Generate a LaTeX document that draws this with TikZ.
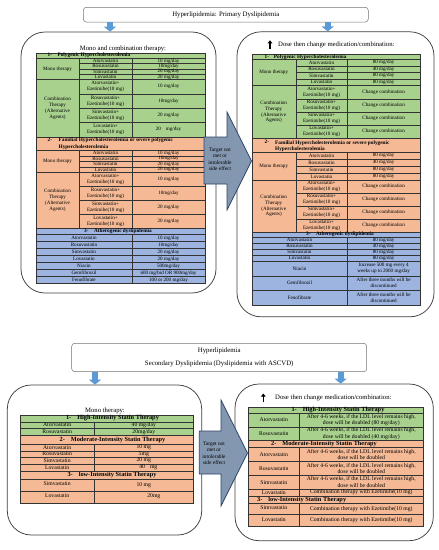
\documentclass[tikz,border=0pt]{standalone}
\usepackage{fontspec}
\setmainfont{Liberation Serif}
\usetikzlibrary{arrows.meta}
\definecolor{rxgreen}{HTML}{A9D18E}
\definecolor{rxpeach}{HTML}{F5BA95}
\definecolor{rxblue}{HTML}{9DB4E0}
\definecolor{rxslate}{HTML}{8497B0}
\definecolor{rxnavy}{HTML}{2E4468}
\definecolor{rxarrow}{HTML}{5B9BD5}

\newcommand{\rows}[6]{%
  \foreach \ya/\yb/\drug/\amt [count=\k] in {#6} {
    \draw[grid] (#2,\ya) rectangle (#4,\yb) (#3,\ya) -- (#3,\yb);
    \node[#1] (#5d\k) at ({(#2+#3)/2},{(\ya+\yb)/2}) {\drug};
    \node[#1] (#5a\k) at ({(#3+#4)/2},{(\ya+\yb)/2}) {\amt};
  }}

\begin{document}
\begin{tikzpicture}[x=1pt, y=-1pt,
  bigbox/.style={draw=black!75, line width=0.75pt, rounded corners=24pt, inner sep=0pt},
  titlebox/.style={draw=black!55, line width=0.5pt, rounded corners=3pt, inner sep=0pt,
                   align=center, font=\fontsize{6.8}{12.6}\selectfont},
  lead/.style={font=\fontsize{6.7}{8}\selectfont, inner sep=0pt},
  grid/.style={draw=black!80, line width=0.35pt},
  cell/.style={font=\fontsize{5.1}{5.9}\selectfont, inner sep=0pt, align=center},
  hdr/.style={font=\fontsize{5.3}{6.5}\selectfont\bfseries, inner sep=0pt, align=left},
  bcell/.style={font=\fontsize{5.7}{6.6}\selectfont, inner sep=0pt, align=center},
  bhdr/.style={font=\fontsize{6.3}{7}\selectfont\bfseries, inner sep=0pt},
  callout/.style={fill=rxslate, draw=rxnavy, line width=0.7pt, line join=miter},
  calltext/.style={font=\fontsize{5.4}{6.5}\selectfont, inner sep=0pt, align=center},
  down/.style={draw=rxarrow, line width=6pt, -{Triangle[length=5pt, width=12pt]}},
  up/.style={line width=1.5pt, -{Triangle[length=3pt, width=4.5pt]}},
]
  \useasboundingbox (0,0) rectangle (439,550);
  \fill[white] (0,0) rectangle (439,550);

  % primary dyslipidemia
  \node[titlebox, minimum width=285pt, minimum height=14.7pt] (ttop) at (225.8,14.65)
    {Hyperlipidemia: Primary Dyslipidemia};
  \node[bigbox, minimum width=195pt, minimum height=261pt] (lbox) at (118.5,162.5) {};
  \node[bigbox, minimum width=197pt, minimum height=285pt] (rbox) at (335.5,174.3) {};
  \coordinate (tl) at (110,0);
  \coordinate (tr) at (327.7,0);
  \draw[down] (ttop.south -| tl) -- (lbox.north -| tl);
  \draw[down] (ttop.south -| tr) -- (rbox.north -| tr);

  \node[lead] (llead) at (123,48.8) {Mono and combination therapy:};

  \fill[rxgreen] (36,52.7) rectangle (205,136.7);
  \draw[grid] (36,52.7) rectangle (205,136.7) (36,58.3) -- (205,58.3) (36,79.5) -- (79,79.5);
  \node[hdr, anchor=west] (lh1) at (47.5,55.5) {1-\hspace{5.5pt}Polygenic Hypercholesterolemia};
  \rows{cell}{79}{132}{205}{lpm}{58.3/63.6/Atorvastatin/{10 mg/day}, 63.6/68.9/Rosuvastatin/{10mg/day},
    68.9/74.2/Simvastatin/{20 mg/day}, 74.2/79.5/Lovastatin/{20 mg/day}}
  \rows{cell}{79}{132}{205}{lpc}{79.5/93.8/{Atorvastatin+\\Ezetimibe(10 mg)}/{10 mg/day},
    93.8/108.1/{Rosuvastatin+\\Ezetimibe(10 mg)}/{10mg/day},
    108.1/122.4/{Simvastatin+\\Ezetimibe(10 mg)}/{20 mg/day},
    122.4/136.7/{Lovastatin+\\Ezetimibe(10 mg)}/{20\hspace{5pt}mg/day}}
  \node[cell] (lpmono) at (57.5,68.9) {Mono therapy};
  \node[cell] (lpcomb) at (57.5,108.1) {Combination\\Therapy\\(Alternative\\Agents)};

  \fill[rxpeach] (36,136.7) rectangle (205,227.9);
  \draw[grid] (36,136.7) rectangle (205,227.9) (36,150.3) -- (205,150.3) (36,172.3) -- (79,172.3);
  \node[hdr, anchor=north west] (lh2n) at (47.5,137.9) {2-};
  \node[hdr, anchor=north west] (lh2) at (58.5,137.9)
    {Familial Hypercholesterolemia or severe polygenic\\Hypercholesterolemia};
  \rows{cell}{79}{132}{205}{lfm}{150.3/155.8/Atorvastatin/{10 mg/day}, 155.8/161.3/Rosuvastatin/{10mg/day},
    161.3/166.8/Simvastatin/{20 mg/day}, 166.8/172.3/Lovastatin/{20 mg/day}}
  \rows{cell}{79}{132}{205}{lfc}{172.3/186.2/{Atorvastatin+\\Ezetimibe(10 mg)}/{10 mg/day},
    186.2/200.1/{Rosuvastatin+\\Ezetimibe(10 mg)}/{10mg/day},
    200.1/214/{Simvastatin+\\Ezetimibe(10 mg)}/{20 mg/day},
    214/227.9/{Lovastatin+\\Ezetimibe(10 mg)}/{20 mg/day}}
  \node[cell] (lfmono) at (57.5,161.3) {Mono therapy};
  \node[cell] (lfcomb) at (57.5,200.1) {Combination\\Therapy\\(Alternative\\Agents)};

  \fill[rxblue] (36,227.9) rectangle (205,283.3);
  \draw[grid] (36,227.9) rectangle (205,283.3);
  \node[hdr] (lh3) at (118,231.1) {3-\hspace{5.5pt}Atherogenic dyslipidemia};
  \rows{cell}{36}{132}{205}{lam}{234.3/241.3/Atorvastatin/{10 mg/day}, 241.3/248.3/Rosuvastatin/{10mg/day},
    248.3/255.3/Simvastatin/{20 mg/day}, 255.3/262.3/Lovastatin/{20 mg/day},
    262.3/269.3/Niacin/{500mg/day}, 269.3/276.3/Gemfibrozil/{600 mg/bid OR 900mg/day},
    276.3/283.3/Fenofibrate/{100 or 200 mg/day}}

  \node[minimum height=8pt, inner sep=0pt] (rup) at (270,44.5) {};
  \draw[up] (rup.south) -- (rup.north);
  \node[lead, anchor=west] (rlead) at (278,45) {Dose then change medication/combination:};

  \fill[rxgreen] (251.7,54.3) rectangle (420,138.3);
  \draw[grid] (251.7,54.3) rectangle (420,138.3) (251.7,59.3) -- (420,59.3) (251.7,85.5) -- (295.7,85.5);
  \node[hdr, anchor=west] (rh1) at (264.5,56.8) {1-\hspace{4.8pt}Polygenic Hypercholesterolemia};
  \rows{cell}{295.7}{347.3}{420}{rpm}{59.3/65.85/Atorvastatin/{80 mg/day}, 65.85/72.4/Rosuvastatin/{40 mg/day},
    72.4/78.95/Simvastatin/{80 mg/day}, 78.95/85.5/Lovastatin/{80 mg/day}}
  \rows{cell}{295.7}{347.3}{420}{rpc}{85.5/98.7/{Atorvastatin+\\Ezetimibe(10 mg)}/{Change combination},
    98.7/111.9/{Rosuvastatin+\\Ezetimibe(10 mg)}/{Change combination},
    111.9/125.1/{Simvastatin+\\Ezetimibe(10 mg)}/{Change combination},
    125.1/138.3/{Lovastatin+\\Ezetimibe(10 mg)}/{Change combination}}
  \node[cell] (rpmono) at (273.7,72.4) {Mono therapy};
  \node[cell] (rpcomb) at (273.7,111.9) {Combination\\Therapy\\(Alternative\\Agents)};

  \fill[rxpeach] (251.7,138.3) rectangle (420,231.7);
  \draw[grid] (251.7,138.3) rectangle (420,231.7) (251.7,152.3) -- (420,152.3) (251.7,180) -- (295.7,180);
  \node[hdr, anchor=north west] (rh2n) at (264.5,140.2) {2-};
  \node[hdr, anchor=north west] (rh2) at (275,140.2)
    {Familial Hypercholesterolemia or severe polygenic\\Hypercholesterolemia};
  \rows{cell}{295.7}{347.3}{420}{rfm}{152.3/159.2/Atorvastatin/{80 mg/day}, 159.2/166.2/Rosuvastatin/{40 mg/day},
    166.2/173.1/Simvastatin/{80 mg/day}, 173.1/180/Lovastatin/{80 mg/day}}
  \rows{cell}{295.7}{347.3}{420}{rfc}{180/192.9/{Atorvastatin+\\Ezetimibe(10 mg)}/{Change combination},
    192.9/205.85/{Rosuvastatin+\\Ezetimibe(10 mg)}/{Change combination},
    205.85/218.8/{Simvastatin+\\Ezetimibe(10 mg)}/{Change combination},
    218.8/231.7/{Lovastatin+\\Ezetimibe(10 mg)}/{Change combination}}
  \node[cell] (rfmono) at (273.7,166.15) {Mono therapy};
  \node[cell] (rfcomb) at (273.7,205.85) {Combination\\Therapy\\(Alternative\\Agents)};

  \fill[rxblue] (251.7,231.7) rectangle (420,305);
  \draw[grid] (251.7,231.7) rectangle (420,305);
  \node[hdr] (rh3) at (340,234.5) {3-\hspace{5.5pt}Atherogenic dyslipidemia};
  \rows{cell}{251.7}{347.3}{420}{ram}{237.3/243.3/Atorvastatin/{80 mg/day}, 243.3/249.3/Rosuvastatin/{40 mg/day},
    249.3/255.3/Simvastatin/{80 mg/day}, 255.3/261.3/Lovastatin/{80 mg/day},
    261.3/275.9/Niacin/{Increase 500 mg every 4\\weeks up to 2000 mg/day},
    275.9/290.4/Gemfibrozil/{After three months will be\\discontinued},
    290.4/305/Fenofibrate/{After three months will be\\discontinued}}

  \draw[callout] (204,137) -- (227,137) -- (227,112) -- (251.5,161) -- (227,210)
    -- (227,184) -- (204,184) -- cycle;
  \node[calltext] (tgt1) at (220,159.5) {Target not\\met or\\intolerable\\side effect};

  % secondary dyslipidemia
  \node[titlebox, minimum width=295pt, minimum height=28.4pt] (tbot) at (219.2,357.5)
    {Hyperlipidemia\\Secondary Dyslipidemia (Dyslipidemia with ASCVD)};
  \node[bigbox, minimum width=194.4pt, minimum height=150pt] (blbox) at (104.5,460) {};
  \node[bigbox, minimum width=198.3pt, minimum height=156.7pt] (brbox) at (334.15,462.35) {};
  \coordinate (bl) at (95,0);
  \coordinate (br) at (340.7,0);
  \draw[down] (tbot.south -| bl) -- (blbox.north -| bl);
  \draw[down] (tbot.south -| br) -- (brbox.north -| br);

  \node[lead] (bllead) at (105,410.5) {Mono therapy:};

  \fill[rxgreen] (20,415) rectangle (193.3,435);
  \fill[rxpeach] (20,435) rectangle (193.3,502.7);
  \draw[grid] (20,415) rectangle (193.3,421.7) (20,435) rectangle (193.3,444) (20,470.7) rectangle (193.3,479);
  \node[bhdr] (blh1) at (112.5,418.5) {1-\hspace{6pt}High-Intensity Statin Therapy};
  \node[bhdr] (blh2) at (112.5,439.7) {2-\hspace{6pt}Moderate-Intensity Statin Therapy};
  \node[bhdr] (blh3) at (112,475) {3-\hspace{6pt}low-Intensity Statin Therapy};
  \rows{bcell}{20}{94.3}{193.3}{blh}{421.7/428.3/Atorvastatin/{40 mg/day}, 428.3/435/Rosuvastatin/{20mg/day}}
  \rows{bcell}{20}{94.3}{193.3}{blm}{444/450.7/Atorvastatin/{10 mg}, 450.7/457.3/Rosuvastatin/{5mg},
    457.3/464/Simvastatin/{20 mg}, 464/470.7/Lovastatin/{\hspace*{9pt}40\hspace{5pt}mg}}
  \rows{bcell}{20}{94.3}{193.3}{bll}{479/490.7/{\raisebox{2pt}{Simvastatin}}/{10 mg},
    490.7/502.7/{\raisebox{1.5pt}{Lovastatin}}/{\hspace*{20pt}20mg}}

  \node[minimum height=8pt, inner sep=0pt] (bup) at (263.3,397.7) {};
  \draw[up] (bup.south) -- (bup.north);
  \node[lead, anchor=west] (brlead) at (275,397.7) {Dose then change medication/combination:};

  \fill[rxgreen] (248.3,407.3) rectangle (423.3,440);
  \fill[rxpeach] (248.3,440) rectangle (423.3,526);
  \draw[grid] (248.3,407.3) rectangle (423.3,413.3) (248.3,440) rectangle (423.3,447.3)
    (248.3,495.7) rectangle (423.3,503.3);
  \node[bhdr] (brh1) at (338,410.3) {1-\hspace{6pt}High-Intensity Statin Therapy};
  \node[bhdr] (brh2) at (324,443.7) {2-\hspace{6pt}Moderate-Intensity Statin Therapy};
  \node[bhdr, anchor=west] (brh3) at (257,499.5) {3-\hspace{6pt}low-Intensity Statin Therapy};
  \rows{bcell}{248.3}{299.3}{423.3}{brh}{413.3/426.7/Atorvastatin/{After 4-6 weeks, if the LDL level remains high,\\dose will be doubled (80 mg/day)},
    426.7/440/Rosuvastatin/{After 4-6 weeks, if the LDL level remains high,\\dose will be doubled (40 mg/day)}}
  \rows{bcell}{248.3}{299.3}{423.3}{brm}{447.3/461.5/Atorvastatin/{After 4-6 weeks, if the LDL level remains high,\\dose will be doubled},
    461.5/475.5/Rosuvastatin/{After 4-6 weeks, if the LDL level remains high,\\dose will be doubled},
    475.5/489/Simvastatin/{After 4-6 weeks, if the LDL level remains high,\\dose will be doubled},
    489/495.7/Lovastatin/{Combination therapy with Ezetimibe(10 mg)}}
  \rows{bcell}{248.3}{299.3}{423.3}{brl}{503.3/514/{\raisebox{1.5pt}{Simvastatin}}/{Combination therapy with Ezetimibe(10 mg)},
    514/526/{\raisebox{1pt}{Lovastatin}}/{Combination therapy with Ezetimibe(10 mg)}}

  \draw[callout] (199.3,431) -- (221,431) -- (221,400) -- (247.5,453) -- (221,506)
    -- (221,474) -- (199.3,474) -- cycle;
  \node[calltext] (tgt2) at (214,453.5) {Target not\\met or\\intolerable\\side effect};
\end{tikzpicture}
\end{document}
